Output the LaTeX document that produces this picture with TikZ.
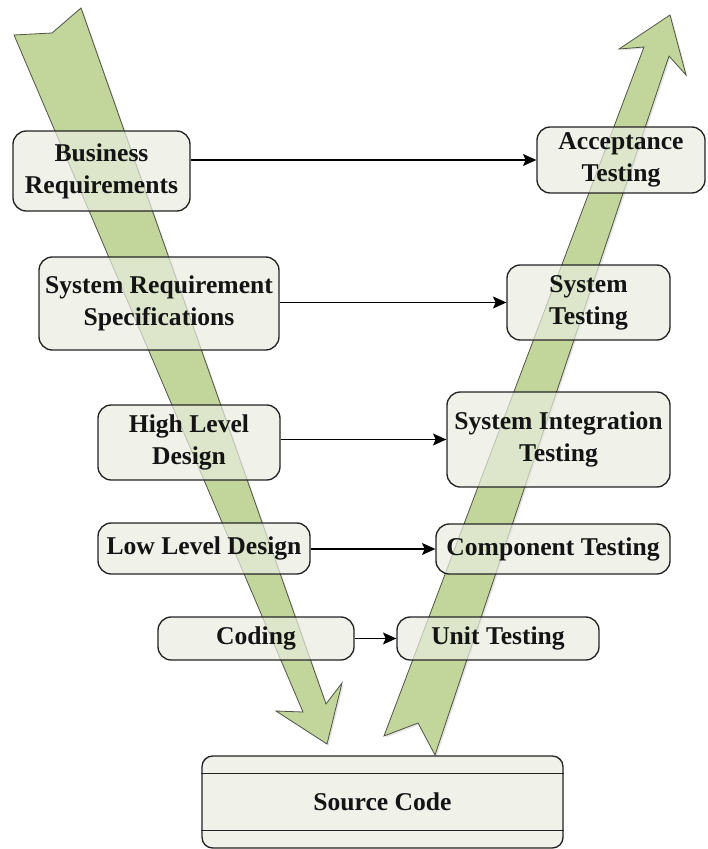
\documentclass[tikz,border=0pt]{standalone}
\usepackage{fontspec}
\setmainfont{Liberation Serif}
\usetikzlibrary{arrows.meta,shadows}
\definecolor{vgreen}{HTML}{C2D69B}
\definecolor{vedge}{HTML}{4E5446}
\definecolor{boxfill}{HTML}{E9EDE0}
\definecolor{boxline}{HTML}{232323}

\begin{document}
\begin{tikzpicture}[x=0.75pt,y=-0.75pt,
  phase/.style={fill=vgreen, draw=vedge, line width=0.6pt, line join=miter,
    drop shadow={shadow xshift=1.2pt, shadow yshift=-1.2pt, opacity=0.22}},
  stage/.style={draw=boxline, line width=1pt, fill=boxfill, fill opacity=0.7,
    text opacity=1, rounded corners=10pt, align=center, inner sep=0pt,
    font=\bfseries\fontsize{19.2pt}{24pt}\selectfont, text=black!92},
  link/.style={draw=black, line width=0.9pt,
    -{Stealth[length=10pt,width=9pt,inset=2pt]}}
]
\useasboundingbox (0,0) rectangle (707,849);

% descending (specification) arrow
\path[phase] (14,35) -- (52,33) -- (81,8) -- (326,704) -- (342,683)
  -- (327,744) -- (276,711) -- (303,712) -- cycle;
% ascending (testing) arrow
\path[phase] (435,755) -- (418,723) -- (384,736) -- (644,47) -- (619,49)
  -- (670,15) -- (686,75) -- (669,56) -- cycle;

% left side: specification stages
\node[stage, minimum width=132.75pt, minimum height=60pt] (br) at (101.5,171) {Business\\Requirements};
\node[stage, minimum width=180pt, minimum height=69.75pt] (srs) at (159,303.5) {System Requirement\\Specifications};
\node[stage, minimum width=136.5pt, minimum height=56.25pt] (hld) at (189,442.5) {High Level\\Design};
\node[stage, minimum width=159pt, minimum height=38.25pt] (lld) at (204,548.5) {Low Level Design};
\node[stage, minimum width=147pt, minimum height=32.25pt] (cod) at (256,638.5) {Coding};

% right side: testing stages
\node[stage, minimum width=126pt, minimum height=49.5pt] (at) at (621,160) {Acceptance\\Testing};
\node[stage, minimum width=122.25pt, minimum height=56.25pt] (st) at (588.5,302.5) {System\\Testing};
\node[stage, minimum width=167.25pt, minimum height=71.25pt] (sit) at (558.5,439.5) {System Integration\\Testing};
\node[stage, minimum width=175.5pt, minimum height=37.5pt] (ct) at (553,549) {Component Testing};
\node[stage, minimum width=151.5pt, minimum height=32.25pt] (ut) at (498,638.5) {Unit Testing};

% source code store
\node[stage, rounded corners=8pt, minimum width=270.75pt, minimum height=69pt] (src) at (382.5,802) {Source Code};
\draw[boxline, line width=1pt] ([yshift=-13.5pt]src.north west) -- ([yshift=-13.5pt]src.north east);
\draw[boxline, line width=1pt] ([yshift=13.5pt]src.south west) -- ([yshift=13.5pt]src.south east);

% verification links
\draw[link] (br.east |- at.west) -- (at.west);
\draw[link] (srs.east |- st.west) -- (st.west);
\draw[link] (hld.east |- sit.west) -- (sit.west);
\draw[link] (lld.east |- ct.west) -- (ct.west);
\draw[link] (cod.east |- ut.west) -- (ut.west);
\end{tikzpicture}
\end{document}
